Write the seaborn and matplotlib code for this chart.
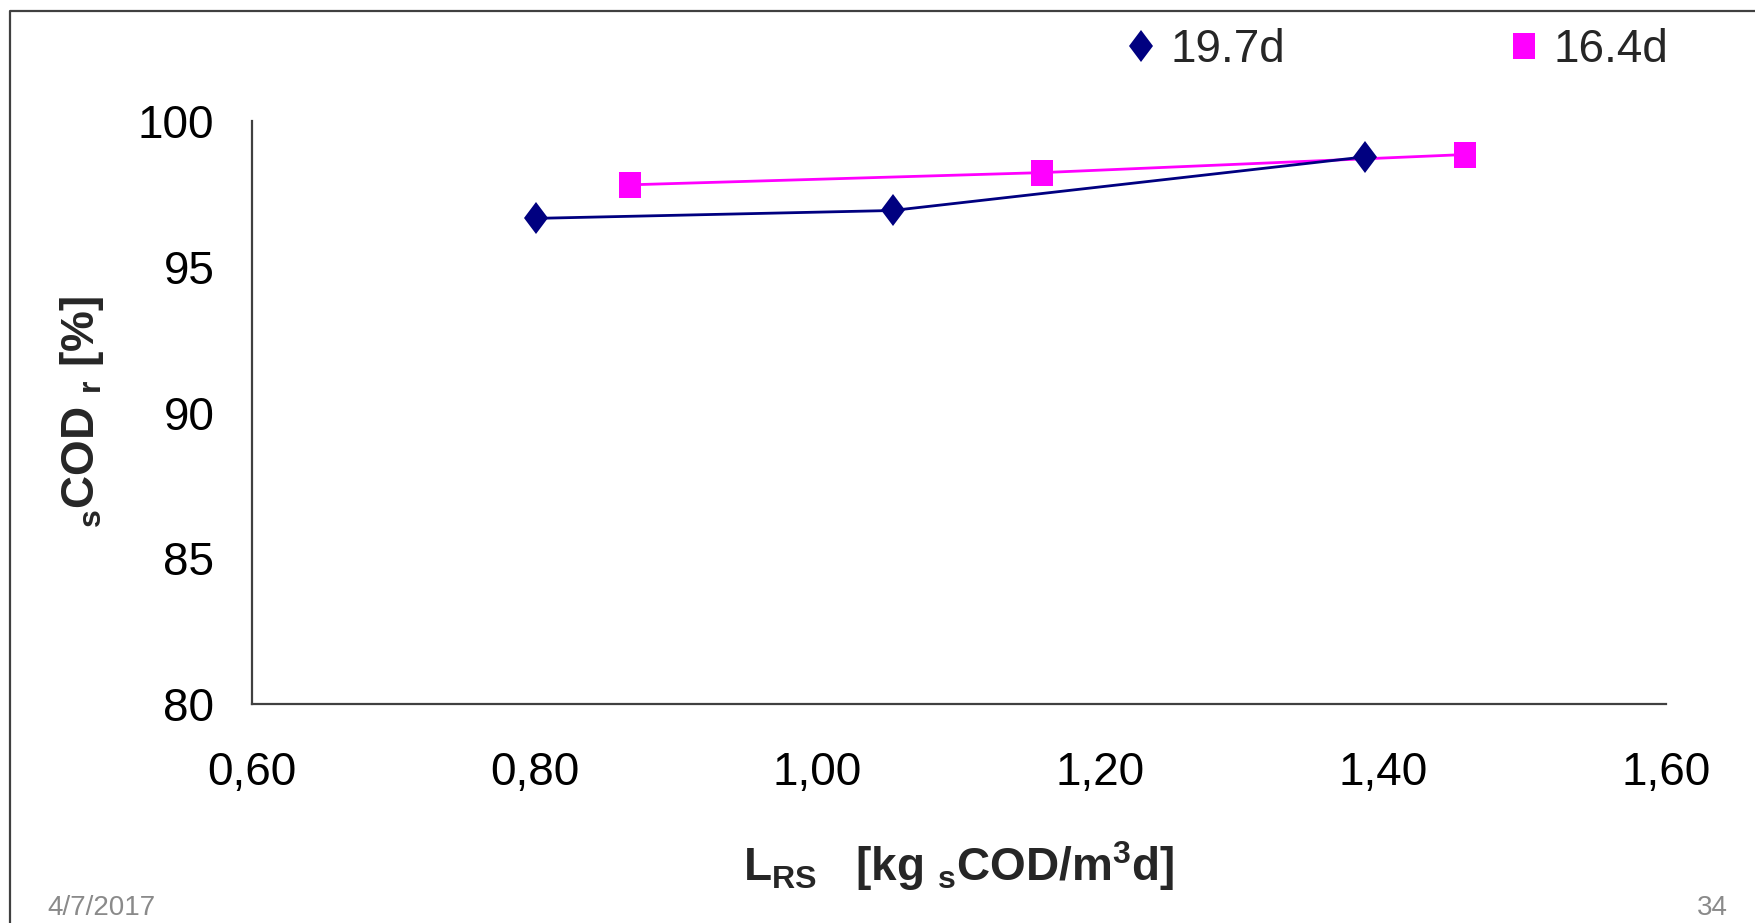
import numpy as np
import pandas as pd
import matplotlib
matplotlib.use("Agg")
import matplotlib.pyplot as plt
from matplotlib.lines import Line2D
from matplotlib.markers import MarkerStyle
from matplotlib.transforms import Affine2D
import seaborn as sns

# ---- data ----
x_197 = [0.801, 1.053, 1.387]
y_197 = [96.66, 96.93, 98.77]
x_164 = [0.867, 1.159, 1.458]
y_164 = [97.81, 98.23, 98.85]
series_names = ["19.7d", "16.4d"]
x_ticks = [0.60, 0.80, 1.00, 1.20, 1.40, 1.60]
x_tick_labels = ["0,60", "0,80", "1,00", "1,20", "1,40", "1,60"]
y_ticks = [80, 85, 90, 95, 100]
y_tick_labels = ["80", "85", "90", "95", "100"]
footer_left = "4/7/2017"
footer_right = "34"

sns.set_style("white")
plt.rcParams["font.family"] = ["Liberation Sans", "DejaVu Sans"]
plt.rcParams["mathtext.fontset"] = "custom"
plt.rcParams["mathtext.rm"] = "Liberation Sans"
plt.rcParams["mathtext.bf"] = "Liberation Sans:bold"
plt.rcParams["mathtext.it"] = "Liberation Sans:italic"

navy = "#000080"
magenta = "#FF00FF"
spine_col = "#404040"

fig = plt.figure(figsize=(17.56, 9.23), dpi=100)
W, H = 1756, 923
ax = fig.add_axes([252 / W, 1 - 704 / H, (1666 - 252) / W, (704 - 121) / H])

diamond = MarkerStyle("D", transform=Affine2D().scale(0.74, 1.0))
square = MarkerStyle("s", transform=Affine2D().scale(0.82, 1.0))

df1 = pd.DataFrame({"x": x_197, "y": y_197})
df2 = pd.DataFrame({"x": x_164, "y": y_164})
sns.lineplot(data=df1, x="x", y="y", ax=ax, color=navy, lw=2.0,
             marker=diamond, markersize=16, markeredgewidth=0,
             markerfacecolor=navy, zorder=3)
sns.lineplot(data=df2, x="x", y="y", ax=ax, color=magenta, lw=2.0,
             marker=square, markersize=19, markeredgewidth=0,
             markerfacecolor=magenta, zorder=2)

ax.set_xlim(0.60, 1.60)
ax.set_ylim(80, 100)
ax.set_xticks(x_ticks)
ax.set_xticklabels(x_tick_labels)
ax.set_yticks(y_ticks)
ax.set_yticklabels(y_tick_labels)

for s in ["top", "right"]:
    ax.spines[s].set_visible(False)
for s in ["left", "bottom"]:
    ax.spines[s].set_color(spine_col)
    ax.spines[s].set_linewidth(1.6)

ax.tick_params(axis="both", direction="out", length=11, width=1.6,
               color=spine_col, labelsize=33, labelcolor="black")
ax.tick_params(axis="y", pad=16)
ax.tick_params(axis="x", pad=23)
ax.grid(False)

ax.set_xlabel(r"$\mathbf{L_{RS}}\quad\mathbf{[kg\ {}_{s}COD/m^{3}d]}$",
              fontsize=33)
ax.set_ylabel(r"$\mathbf{{}_{s}COD\ {}_{r}\ [\%]}$", fontsize=33)
ax.xaxis.set_label_coords(0.5, -0.231)
ax.yaxis.set_label_coords(-0.103, 0.5)

handles = [
    Line2D([], [], linestyle="none", marker=diamond, markersize=16,
           color=navy, markeredgewidth=0),
    Line2D([], [], linestyle="none", marker=square, markersize=19,
           color=magenta, markeredgewidth=0),
]
fig.legend(handles, series_names, loc="center left",
           bbox_to_anchor=(1127 / W, 1 - 50 / H), ncol=2, frameon=False,
           fontsize=33, handlelength=0.6, handletextpad=0.35,
           columnspacing=4.9, borderpad=0, borderaxespad=0, numpoints=1)

# outer slide frame
fig.add_artist(Line2D([10 / W, 10 / W, 1.0], [0.0, 1 - 11 / H, 1 - 11 / H],
                      transform=fig.transFigure, color="#404040", lw=1.6))

fig.text(47 / W, 2 / H, footer_left, fontsize=20, color="#8a8a8a",
         va="bottom", ha="left")
fig.text(1697 / W, 2 / H, footer_right, fontsize=20, color="#8a8a8a",
         va="bottom", ha="left")

fig.savefig("out.png", dpi=100)
